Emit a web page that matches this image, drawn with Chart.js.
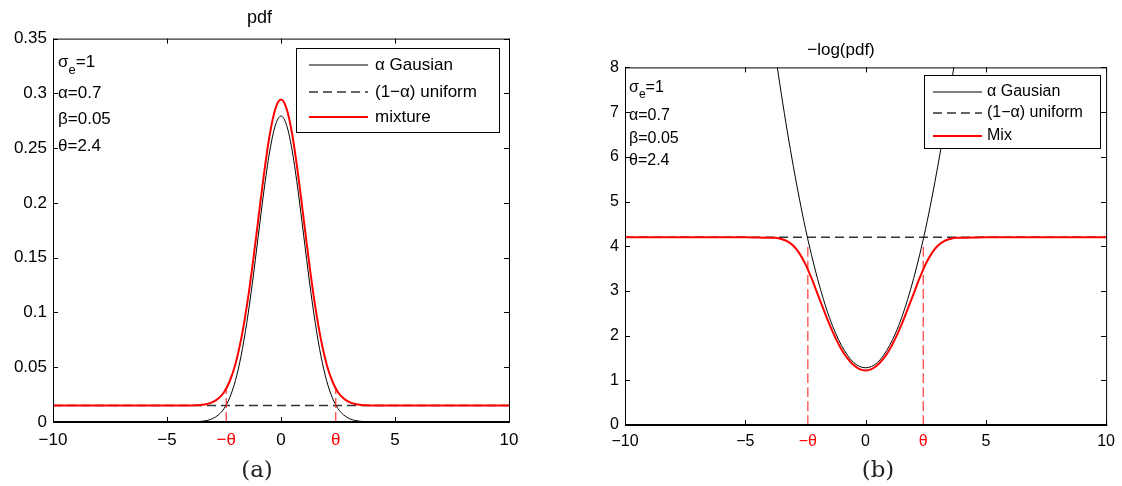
<!DOCTYPE html>
<html>
<head>
<meta charset="utf-8">
<script src="https://cdn.jsdelivr.net/npm/chart.js@4.4.0/dist/chart.umd.min.js"></script>
<style>
  body { margin: 0; background: #fff; width: 1122px; height: 486px; overflow: hidden; position: relative; }
  .box { position: absolute; top: 0; height: 486px; }
  #boxA { left: 0; width: 560px; }
  #boxB { left: 560px; width: 562px; }
  .cap { position: absolute; top: 456px; width: 100px; text-align: center; line-height: 26px;
         font-family: "DejaVu Serif", "Liberation Serif", serif; font-size: 23px; color: #222; }
</style>
</head>
<body>
<div class="box" id="boxA"><canvas id="pdfChart"></canvas></div>
<div class="box" id="boxB"><canvas id="nllChart"></canvas></div>
<div class="cap" style="left:207px">(a)</div>
<div class="cap" style="left:828px">(b)</div>
<script>
const xs = [-10, -5, -4, -3.75, -3.5, -3.25, -3, -2.75, -2.5, -2.25, -2, -1.75, -1.5, -1.25, -1, -0.75, -0.5, -0.25,
            0, 0.25, 0.5, 0.75, 1, 1.25, 1.5, 1.75, 2, 2.25, 2.5, 2.75, 3, 3.25, 3.5, 3.75, 4, 5, 10];

// (a) pdf
const pdfGauss = [0, 0, 0.0001, 0.0002, 0.0006, 0.0014, 0.0031, 0.0064, 0.0122, 0.0222, 0.0378, 0.0604, 0.0907, 0.1278, 0.1694, 0.2108, 0.2465, 0.2707,
                  0.2793, 0.2707, 0.2465, 0.2108, 0.1694, 0.1278, 0.0907, 0.0604, 0.0378, 0.0222, 0.0122, 0.0064, 0.0031, 0.0014, 0.0006, 0.0002, 0.0001, 0, 0];
const pdfMix = [0.015, 0.015, 0.0151, 0.0152, 0.0156, 0.0164, 0.0181, 0.0214, 0.0272, 0.0372, 0.0528, 0.0754, 0.1057, 0.1428, 0.1844, 0.2258, 0.2615, 0.2857,
                0.2943, 0.2857, 0.2615, 0.2258, 0.1844, 0.1428, 0.1057, 0.0754, 0.0528, 0.0372, 0.0272, 0.0214, 0.0181, 0.0164, 0.0156, 0.0152, 0.0151, 0.015, 0.015];

// (b) -log(pdf)
const nllGauss = [null, null, 9.28, 8.31, 7.40, 6.56, 5.78, 5.06, 4.40, 3.81, 3.28, 2.81, 2.40, 2.06, 1.78, 1.56, 1.40, 1.31,
                  1.28, 1.31, 1.40, 1.56, 1.78, 2.06, 2.40, 2.81, 3.28, 3.81, 4.40, 5.06, 5.78, 6.56, 7.40, 8.31, 9.28, null, null];
const nllMix = [4.20, 4.20, 4.19, 4.19, 4.16, 4.11, 4.01, 3.84, 3.60, 3.29, 2.94, 2.59, 2.25, 1.95, 1.69, 1.49, 1.34, 1.25,
                1.22, 1.25, 1.34, 1.49, 1.69, 1.95, 2.25, 2.59, 2.94, 3.29, 3.60, 3.84, 4.01, 4.11, 4.16, 4.19, 4.19, 4.20, 4.20];

const uniX = [-10, 10];
const pdfUniform = [0.015, 0.015];
const nllUniform = [4.2, 4.2];

const theta = 2.4;
const pdfThetaTop = 0.031;
const nllThetaTop = 4.0;

const xTicks = [-10, -5, -theta, 0, theta, 5, 10];
const pdfYTicks = [0, 0.05, 0.1, 0.15, 0.2, 0.25, 0.3, 0.35];
const nllYTicks = [0, 1, 2, 3, 4, 5, 6, 7, 8];

const pdfLegend = ['α Gausian', '(1−α) uniform', 'mixture'];
const nllLegend = ['α Gausian', '(1−α) uniform', 'Mix'];
const paramLines = ['α=0.7', 'β=0.05', 'θ=2.4'];

const FONT = '"Liberation Sans", Arial, Helvetica, sans-serif';

function pts(xa, ya) {
    return xa.map((x, i) => ({ x: x, y: ya[i] }));
}

// MATLAB-like box with inward ticks
const frameTicks = {
    id: 'frameTicks',
    afterDatasetsDraw(chart) {
        const { ctx, chartArea: a, scales: { x, y } } = chart;
        ctx.save();
        ctx.strokeStyle = '#000';
        ctx.lineWidth = 1;
        ctx.strokeRect(a.left + 0.5, a.top + 0.5, a.right - a.left, a.bottom - a.top);
        ctx.beginPath();
        xTicks.filter(v => Math.abs(v) !== theta).forEach(v => {
            const px = Math.round(x.getPixelForValue(v)) + 0.5;
            ctx.moveTo(px, a.bottom); ctx.lineTo(px, a.bottom - 5);
            ctx.moveTo(px, a.top); ctx.lineTo(px, a.top + 5);
        });
        y.ticks.forEach(t => {
            const py = Math.round(y.getPixelForValue(t.value)) + 0.5;
            ctx.moveTo(a.left, py); ctx.lineTo(a.left + 5, py);
            ctx.moveTo(a.right, py); ctx.lineTo(a.right - 5, py);
        });
        ctx.stroke();
        // bottom axis looks heavier
        ctx.lineWidth = 2;
        ctx.beginPath();
        ctx.moveTo(a.left, a.bottom); ctx.lineTo(a.right + 1, a.bottom);
        ctx.stroke();
        ctx.restore();
    }
};

const boxLegend = {
    id: 'boxLegend',
    afterDraw(chart, args, o) {
        const ctx = chart.ctx;
        const [l, t, r, b] = o.box;
        ctx.save();
        ctx.fillStyle = '#fff';
        ctx.fillRect(l, t, r - l, b - t);
        ctx.strokeStyle = '#000';
        ctx.lineWidth = 1;
        ctx.strokeRect(l + 0.5, t + 0.5, r - l, b - t);
        ctx.font = o.size + 'px ' + FONT;
        ctx.textBaseline = 'middle';
        o.labels.forEach((text, i) => {
            const ds = chart.data.datasets[i];
            const y = o.rows[i];
            ctx.strokeStyle = ds.borderColor;
            ctx.lineWidth = ds.borderWidth;
            ctx.setLineDash(ds.borderDash || []);
            ctx.beginPath();
            ctx.moveTo(o.line[0], y); ctx.lineTo(o.line[1], y);
            ctx.stroke();
            ctx.setLineDash([]);
            ctx.fillStyle = '#000';
            ctx.fillText(text, o.textX, y);
        });
        ctx.restore();
    }
};

const paramsText = {
    id: 'paramsText',
    afterDraw(chart, args, o) {
        const ctx = chart.ctx, a = chart.chartArea;
        const x = a.left + o.dx;
        ctx.save();
        ctx.fillStyle = '#000';
        ctx.textBaseline = 'middle';
        ctx.font = o.size + 'px ' + FONT;
        ctx.fillText('σ', x, a.top + o.dy[0]);
        const w1 = ctx.measureText('σ').width;
        ctx.font = Math.round(o.size * 0.75) + 'px ' + FONT;
        ctx.fillText('e', x + w1, a.top + o.dy[0] + o.size * 0.45);
        const w2 = ctx.measureText('e').width;
        ctx.font = o.size + 'px ' + FONT;
        ctx.fillText('=1', x + w1 + w2, a.top + o.dy[0]);
        paramLines.forEach((s, i) => ctx.fillText(s, x, a.top + o.dy[i + 1]));
        ctx.restore();
    }
};

function xLabel(v) {
    if (v === -theta) return '−θ';
    if (v === theta) return 'θ';
    return String(v).replace('-', '−');
}

function buildChart(id, s) {
    const ctx = document.getElementById(id).getContext('2d');
    return new Chart(ctx, {
        type: 'line',
        data: {
            datasets: [
                { label: s.legend[0], data: pts(xs, s.gauss), borderColor: '#000', borderWidth: 1, order: 2 },
                { label: s.legend[1], data: pts(uniX, s.uniform), borderColor: '#333', borderWidth: 1.4, borderDash: [9, 5], order: 3 },
                { label: s.legend[2], data: pts(xs, s.mix), borderColor: '#ff0000', borderWidth: 2, order: 0 },
                { label: '-theta', data: pts([-theta, -theta], [0, s.thetaTop]), borderColor: 'rgba(255,30,30,0.75)', borderWidth: 1.4, borderDash: [10, 4], order: 1 },
                { label: 'theta', data: pts([theta, theta], [0, s.thetaTop]), borderColor: 'rgba(255,30,30,0.75)', borderWidth: 1.4, borderDash: [10, 4], order: 1 }
            ]
        },
        options: {
            responsive: true,
            maintainAspectRatio: false,
            animation: false,
            events: [],
            layout: { padding: s.padding },
            elements: { point: { radius: 0 }, line: { cubicInterpolationMode: 'monotone' } },
            scales: {
                x: {
                    type: 'linear', min: -10, max: 10,
                    grid: { display: false, drawTicks: false }, border: { display: false },
                    afterBuildTicks: sc => { sc.ticks = xTicks.map(v => ({ value: v })); },
                    afterFit: sc => { sc.height = 30; },
                    ticks: {
                        autoSkip: false, maxRotation: 0, padding: s.tickPad,
                        font: { family: FONT, size: s.tickSize },
                        color: c => (c.tick && Math.abs(c.tick.value) === theta) ? '#ff0000' : '#000',
                        callback: v => xLabel(v)
                    }
                },
                y: {
                    min: s.yTicks[0], max: s.yTicks[s.yTicks.length - 1],
                    grid: { display: false, drawTicks: false }, border: { display: false },
                    afterBuildTicks: sc => { sc.ticks = s.yTicks.map(v => ({ value: v })); },
                    afterFit: sc => { sc.width = s.yWidth; },
                    ticks: {
                        padding: 6, color: '#000',
                        font: { family: FONT, size: s.tickSize },
                        callback: v => String(+v.toFixed(2))
                    }
                }
            },
            plugins: {
                legend: { display: false },
                tooltip: { enabled: false },
                title: {
                    display: true, text: s.title, color: '#000',
                    font: { family: FONT, size: s.titleSize, weight: 'normal' },
                    padding: s.titlePad
                },
                boxLegend: s.legendBox,
                paramsText: s.params
            }
        },
        plugins: [frameTicks, boxLegend, paramsText]
    });
}

buildChart('pdfChart', {
    gauss: pdfGauss, mix: pdfMix, uniform: pdfUniform, thetaTop: pdfThetaTop,
    yTicks: pdfYTicks, legend: pdfLegend, title: 'pdf',
    padding: { left: 10, right: 51, top: 3, bottom: 34 },
    yWidth: 43, tickSize: 17, tickPad: 8, titleSize: 18, titlePad: { top: 4, bottom: 10 },
    legendBox: { box: [296, 48, 499, 132], rows: [65, 92, 117], line: [309, 368], textX: 375, size: 17, labels: pdfLegend },
    params: { dx: 5, dy: [24, 55, 81, 108], size: 17 }
});

buildChart('nllChart', {
    gauss: nllGauss, mix: nllMix, uniform: nllUniform, thetaTop: nllThetaTop,
    yTicks: nllYTicks, legend: nllLegend, title: '−log(pdf)',
    padding: { left: 14, right: 14, top: 36, bottom: 31 },
    yWidth: 51, tickSize: 16, tickPad: 7, titleSize: 17, titlePad: { top: 4, bottom: 7 },
    legendBox: { box: [364, 75, 540, 148], rows: [92, 113, 136], line: [373, 422], textX: 427, size: 16, labels: nllLegend },
    params: { dx: 4, dy: [20, 48, 71, 93], size: 16 }
});
</script>
</body>
</html>
